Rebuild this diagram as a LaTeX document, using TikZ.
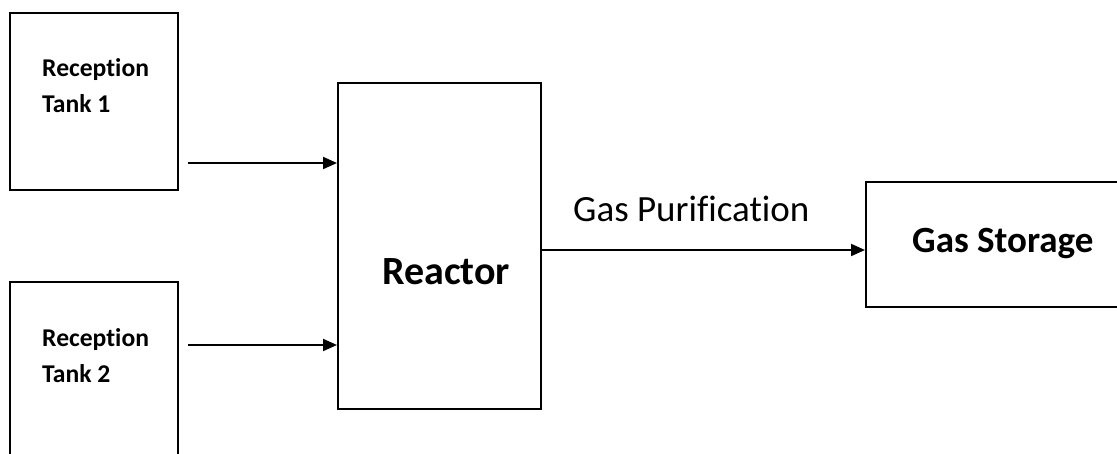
\documentclass[tikz,border=0pt]{standalone}
\usepackage{fontspec}
\setmainfont{Carlito}[Ligatures=NoCommon]
\usetikzlibrary{arrows.meta}
\begin{document}
\begin{tikzpicture}[x=1pt,y=-1pt,
  box/.style={draw=black,line width=2pt,minimum width=#1,inner sep=0pt},
  arr/.style={line width=2pt,-{Triangle[length=14pt,width=12pt]}},
  lbl/.style={anchor=base west,inner sep=0pt},
  tanklbl/.style={lbl,font=\fontsize{25.6}{30}\selectfont\bfseries}]
\useasboundingbox (0,0) rectangle (1117,454);
\clip (0,0) rectangle (1117,454);
% boxes
\node[box=168pt,minimum height=177pt] (t1) at (94,101.5) {};
\node[box=168pt,minimum height=190pt] (t2) at (94,377) {};
\node[box=203pt,minimum height=326pt] (r) at (439.5,246) {};
\node[box=270pt,minimum height=125pt] (gs) at (1001,244.5) {};
% labels
\node[tanklbl] (t1a) at (42,77) {Reception};
\node[tanklbl] (t1b) at (42,113) {Tank 1};
\node[tanklbl] (t2a) at (42,347) {Reception};
\node[tanklbl] (t2b) at (42,382) {Tank 2};
\node[lbl,font=\fontsize{40}{46}\selectfont\bfseries] (rl) at (382,285) {Reactor};
\node[lbl,font=\fontsize{37}{44}\selectfont\bfseries] (gsl) at (912,253) {Gas Storage};
\node[lbl,font=\fontsize{37}{44}\selectfont] (gp) at (573,222) {Gas Purification};
% connectors
\coordinate (a1) at (188,163);
\coordinate (a2) at (188,345);
\draw[arr] (a1) -- (a1 -| r.west);
\draw[arr] (a2) -- (a2 -| r.west);
\coordinate (a3) at (541,250);
\draw[arr] (a3) -- (a3 -| gs.west);
\end{tikzpicture}
\end{document}
